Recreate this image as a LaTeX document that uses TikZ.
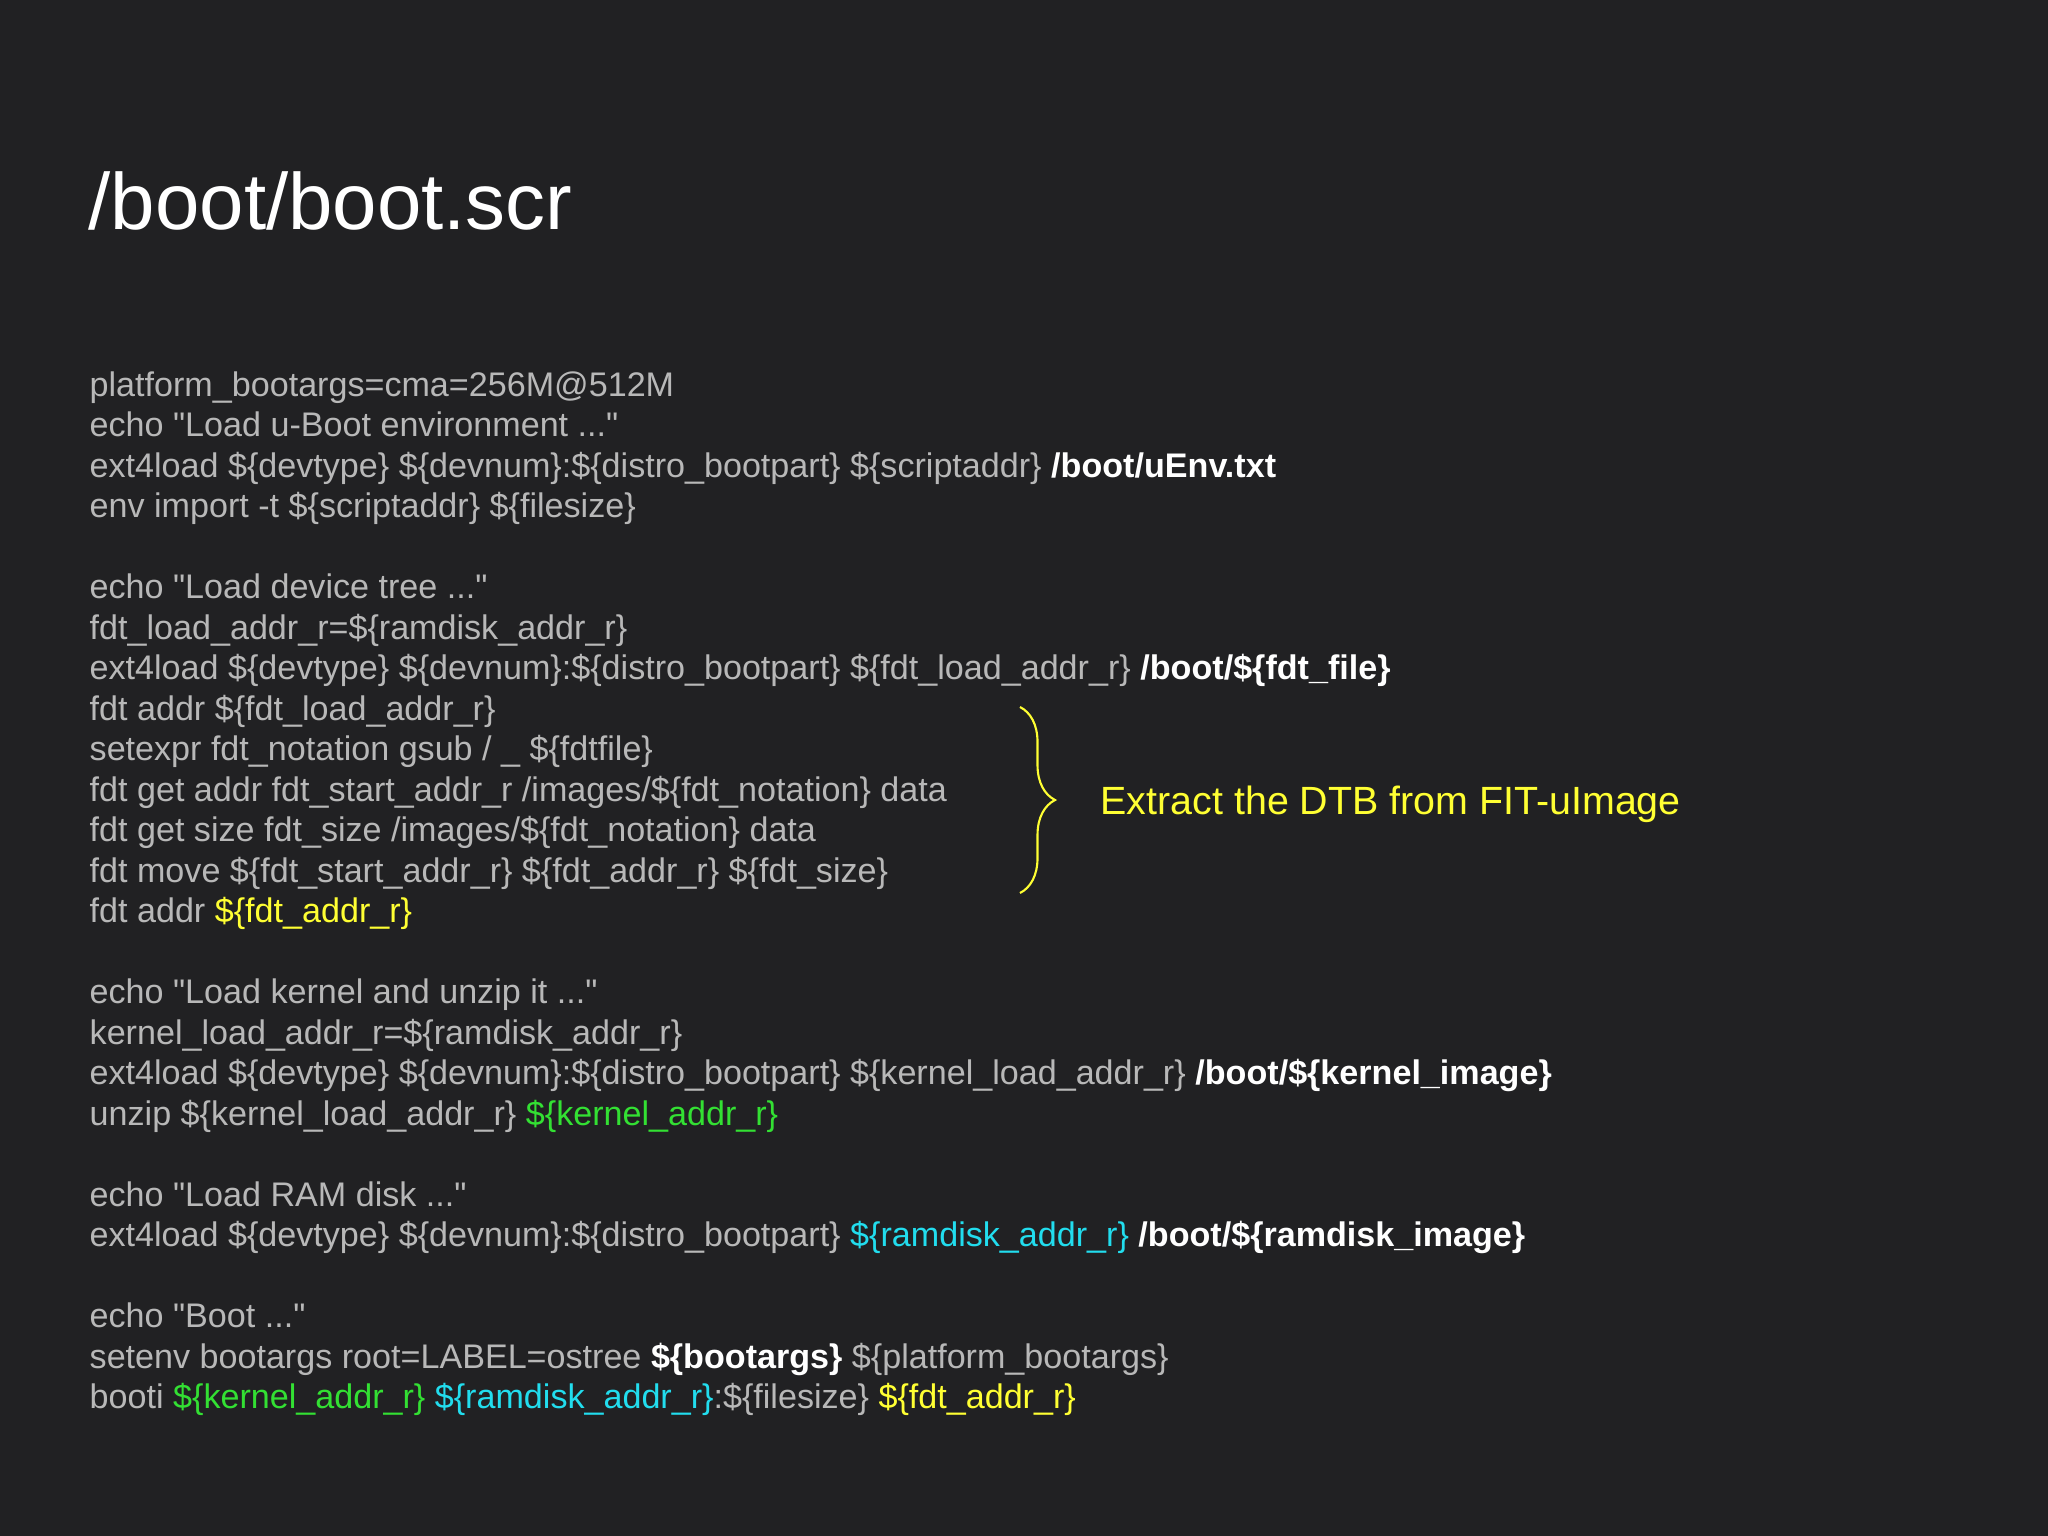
\documentclass[tikz,border=0pt]{standalone}
\usepackage{fontspec}
\setmainfont{Liberation Sans}[Ligatures=TeXOff]
\usetikzlibrary{decorations.pathreplacing}
\definecolor{bg}{HTML}{212123}
\definecolor{tx}{HTML}{B8B8B8}
\definecolor{gr}{HTML}{33E033}
\definecolor{cy}{HTML}{22DDEE}
\definecolor{ye}{HTML}{FFFF33}
\newcommand{\W}[1]{\textbf{\color{white}#1}}
\newcommand{\G}[1]{{\color{gr}#1}}
\newcommand{\C}[1]{{\color{cy}#1}}
\newcommand{\Y}[1]{{\color{ye}#1}}
\newcommand{\q}{\symbol{34}}
\begin{document}
\begin{tikzpicture}[x=0.01cm,y=-0.01cm,
  ln/.style={anchor=base west,inner sep=0pt,text=tx,font=\fontsize{9.7pt}{11pt}\selectfont}]
\fill[bg] (0,0) rectangle (2048,1536);
\useasboundingbox (0,0) rectangle (2048,1536);
\node[anchor=base west,inner sep=0pt,text=white,font=\fontsize{22.7pt}{26pt}\selectfont] (title) at (88,229) {/boot/boot.scr};
\def\L#1#2{\node[ln] (l#1) at (89,{396+40.5*#1}) {#2};}
\L{0}{platform\_bootargs=cma=256M@512M}
\L{1}{echo \q Load u-Boot environment ...\q}
\L{2}{ext4load \$\{devtype\} \$\{devnum\}:\$\{distro\_bootpart\} \$\{scriptaddr\} \W{/boot/uEnv.txt}}
\L{3}{env import -t \$\{scriptaddr\} \$\{filesize\}}
\L{5}{echo \q Load device tree ...\q}
\L{6}{fdt\_load\_addr\_r=\$\{ramdisk\_addr\_r\}}
\L{7}{ext4load \$\{devtype\} \$\{devnum\}:\$\{distro\_bootpart\} \$\{fdt\_load\_addr\_r\} \W{/boot/\$\{fdt\_file\}}}
\L{8}{fdt addr \$\{fdt\_load\_addr\_r\}}
\L{9}{setexpr fdt\_notation gsub / \_ \$\{fdtfile\}}
\L{10}{fdt get addr fdt\_start\_addr\_r /images/\$\{fdt\_notation\} data}
\L{11}{fdt get size fdt\_size /images/\$\{fdt\_notation\} data}
\L{12}{fdt move \$\{fdt\_start\_addr\_r\} \$\{fdt\_addr\_r\} \$\{fdt\_size\}}
\L{13}{fdt addr \Y{\$\{fdt\_addr\_r\}}}
\L{15}{echo \q Load kernel and unzip it ...\q}
\L{16}{kernel\_load\_addr\_r=\$\{ramdisk\_addr\_r\}}
\L{17}{ext4load \$\{devtype\} \$\{devnum\}:\$\{distro\_bootpart\} \$\{kernel\_load\_addr\_r\} \W{/boot/\$\{kernel\_image\}}}
\L{18}{unzip \$\{kernel\_load\_addr\_r\} \G{\$\{kernel\_addr\_r\}}}
\L{20}{echo \q Load RAM disk ...\q}
\L{21}{ext4load \$\{devtype\} \$\{devnum\}:\$\{distro\_bootpart\} \C{\$\{ramdisk\_addr\_r\}} \W{/boot/\$\{ramdisk\_image\}}}
\L{23}{echo \q Boot ...\q}
\L{24}{setenv bootargs root=LABEL=ostree \W{\$\{bootargs\}} \$\{platform\_bootargs\}}
\L{25}{booti \G{\$\{kernel\_addr\_r\}} \C{\$\{ramdisk\_addr\_r\}}:\$\{filesize\} \Y{\$\{fdt\_addr\_r\}}}
\coordinate (bt) at (1020,707);
\coordinate (bb) at (1020,893);
\draw[ye,line width=0.6pt,decorate,decoration={brace,amplitude=0.35cm}] (bt) -- (bb);
\node[anchor=base west,inner sep=0pt,text=ye,font=\fontsize{11.2pt}{13pt}\selectfont] (lab) at (1100,814) {Extract the DTB from FIT-uImage};
\end{tikzpicture}
\end{document}
